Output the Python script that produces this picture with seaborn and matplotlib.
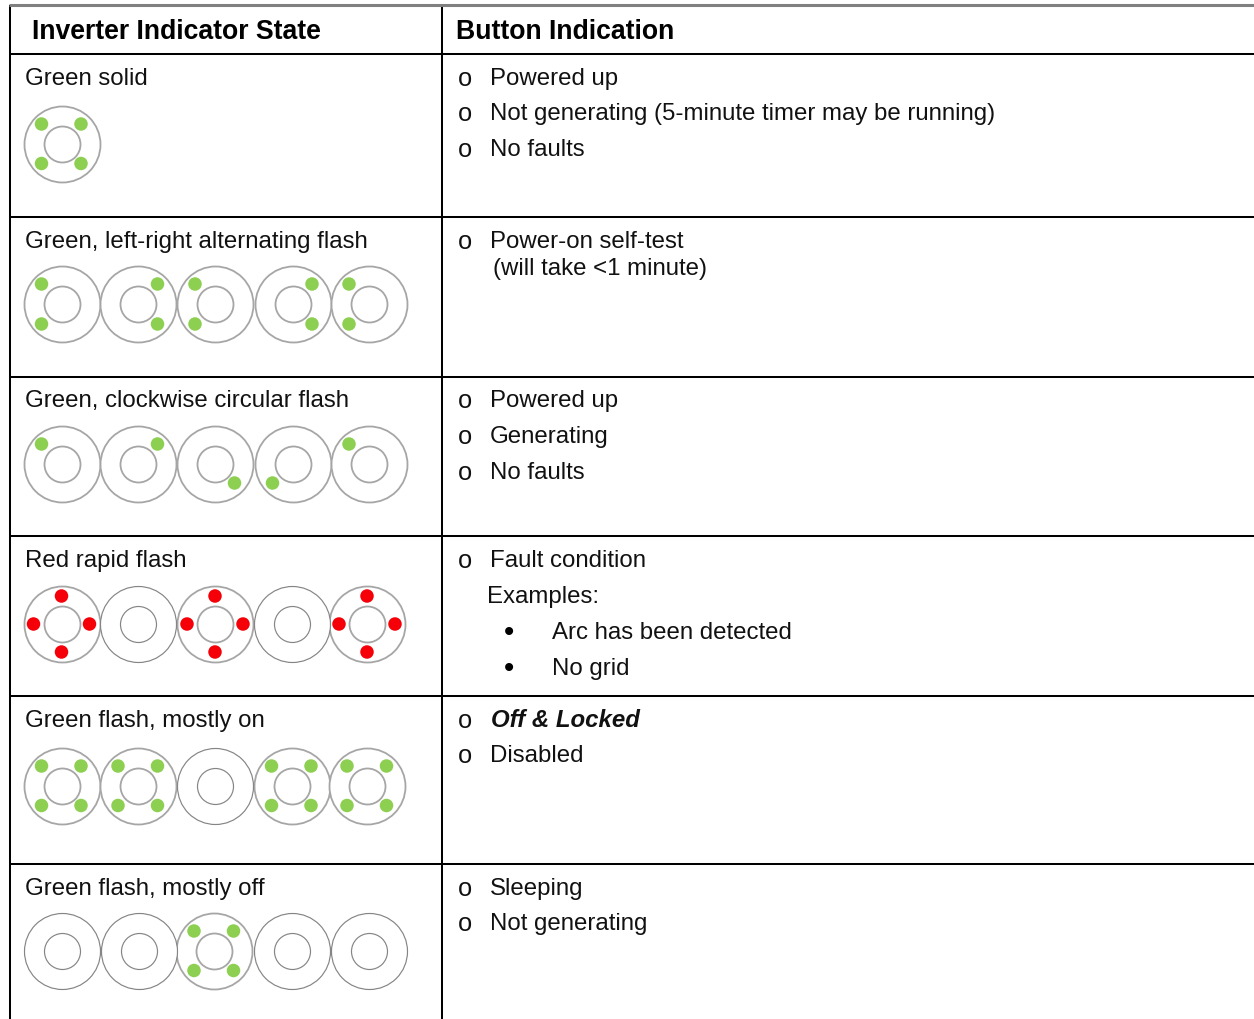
import matplotlib
matplotlib.use("Agg")
import matplotlib.pyplot as plt
import seaborn as sns
import pandas as pd

W, H = 1254, 1019

header_left = "Inverter Indicator State"
header_right = "Button Indication"
states = ["Green solid", "Green, left-right alternating flash", "Green, clockwise circular flash",
          "Red rapid flash", "Green flash, mostly on", "Green flash, mostly off"]

# which LEDs are lit on each ring, per row
ring_patterns = [
    ["corners"],
    ["left", "right", "left", "right", "left"],
    ["ul", "ur", "lr", "ll", "ul"],
    ["cross", "off", "cross", "off", "cross"],
    ["corners", "corners", "off", "corners", "corners"],
    ["off", "off", "corners", "off", "off"],
]
led_colors = ["green", "green", "green", "red", "green", "green"]

# layout, measured in image pixels
row_lines = [54, 217, 377, 536, 696, 864]
col_lines = [10, 442]
state_text_y = [85, 248, 407, 567, 727, 895]
ring_y = [144, 304, 464, 624, 786, 951]
ring_x = [
    [61.5],
    [61.5, 138, 215, 292.5, 369],
    [61.5, 138, 215, 292.5, 369],
    [61.5, 138, 215, 291.5, 367],
    [61.5, 138, 215, 291.5, 367],
    [61.5, 138.5, 214, 291.5, 369],
]

offsets = {
    "corners": [(-20, -20), (19.5, -20), (-20, 19.5), (19.5, 19.5)],
    "left": [(-20, -20), (-20, 20)],
    "right": [(19.5, -20), (19.5, 20)],
    "ul": [(-20, -20)],
    "ur": [(19.5, -20)],
    "lr": [(19.5, 19)],
    "ll": [(-20, 19)],
    "cross": [(0, -28), (0, 28), (-28, 0), (28, 0)],
    "off": [],
}

# (x, baseline y, text, style)
right_text = [
    (490, 85, "Powered up", "normal"),
    (490, 120, "Not generating (5-minute timer may be running)", "normal"),
    (490, 156, "No faults", "normal"),
    (490, 248, "Power-on self-test", "normal"),
    (493, 275, "(will take <1 minute)", "normal"),
    (490, 407, "Powered up", "normal"),
    (490, 443, "Generating", "normal"),
    (490, 479, "No faults", "normal"),
    (490, 567, "Fault condition", "normal"),
    (487, 603, "Examples:", "normal"),
    (552, 639, "Arc has been detected", "normal"),
    (552, 675, "No grid", "normal"),
    (491, 727, "Off & Locked", "bolditalic"),
    (490, 762, "Disabled", "normal"),
    (490, 895, "Sleeping", "normal"),
    (490, 930, "Not generating", "normal"),
]
o_bullets_y = [85, 120, 156, 248, 407, 443, 479, 567, 727, 762, 895, 930]
dot_bullets_y = [639, 675]

sns.set_theme(style="white")
plt.rcParams["font.family"] = ["Liberation Sans", "DejaVu Sans"]

rings = []
leds = []
for r, patterns in enumerate(ring_patterns):
    for x, p in zip(ring_x[r], patterns):
        rings.append({"x": x, "y": ring_y[r], "lit": p != "off"})
        for dx, dy in offsets[p]:
            leds.append({"x": x + dx, "y": ring_y[r] + dy, "color": led_colors[r]})
rings = pd.DataFrame(rings)
leds = pd.DataFrame(leds)

fig = plt.figure(figsize=(W / 100, H / 100), dpi=100)
ax = fig.add_axes([0, 0, 1, 1])

def px(d):
    # marker area for a diameter in pixels
    return (d * 0.72) ** 2

for lit, edge, lw in [(True, "#a6a6a6", 1.3), (False, "#858585", 0.85)]:
    part = rings[rings["lit"] == lit]
    sns.scatterplot(data=part, x="x", y="y", s=px(76), facecolor="white", edgecolor=edge,
                    linewidth=lw, ax=ax, legend=False, zorder=3)
    sns.scatterplot(data=part, x="x", y="y", s=px(36), facecolor="white", edgecolor=edge,
                    linewidth=lw, ax=ax, legend=False, zorder=3)

sns.scatterplot(data=leds, x="x", y="y", hue="color", palette={"green": "#8dcf50", "red": "#f50008"},
                s=px(13.5), linewidth=0, ax=ax, legend=False, zorder=4)

ax.hlines(row_lines, col_lines[0], W, color="black", lw=1.45, zorder=2)
ax.vlines(col_lines, 5, H, color="black", lw=1.45, zorder=2)
ax.hlines(5, col_lines[0] - 1, W, color="#808080", lw=2.2, zorder=2)

fs = 17.3
ax.text(32, 39, header_left, fontsize=19.2, fontweight="bold", color="black", va="baseline")
ax.text(456, 39, header_right, fontsize=19.2, fontweight="bold", color="black", va="baseline")

for y, label in zip(state_text_y, states):
    ax.text(25, y, label, fontsize=fs, color="#111111", va="baseline")

for x, y, label, style in right_text:
    if style == "bolditalic":
        ax.text(x, y, label, fontsize=fs, fontweight="bold", fontstyle="italic", color="#111111", va="baseline")
    else:
        ax.text(x, y, label, fontsize=fs, color="#111111", va="baseline")

for y in o_bullets_y:
    ax.text(458, y + 1, "o", fontsize=fs + 1, color="#111111", va="baseline")
for y in dot_bullets_y:
    ax.text(504, y + 2, "•", fontsize=fs + 4, color="black", va="baseline")

ax.set_xlim(0, W)
ax.set_ylim(H, 0)
ax.axis("off")

plt.savefig("out.png", dpi=100)
